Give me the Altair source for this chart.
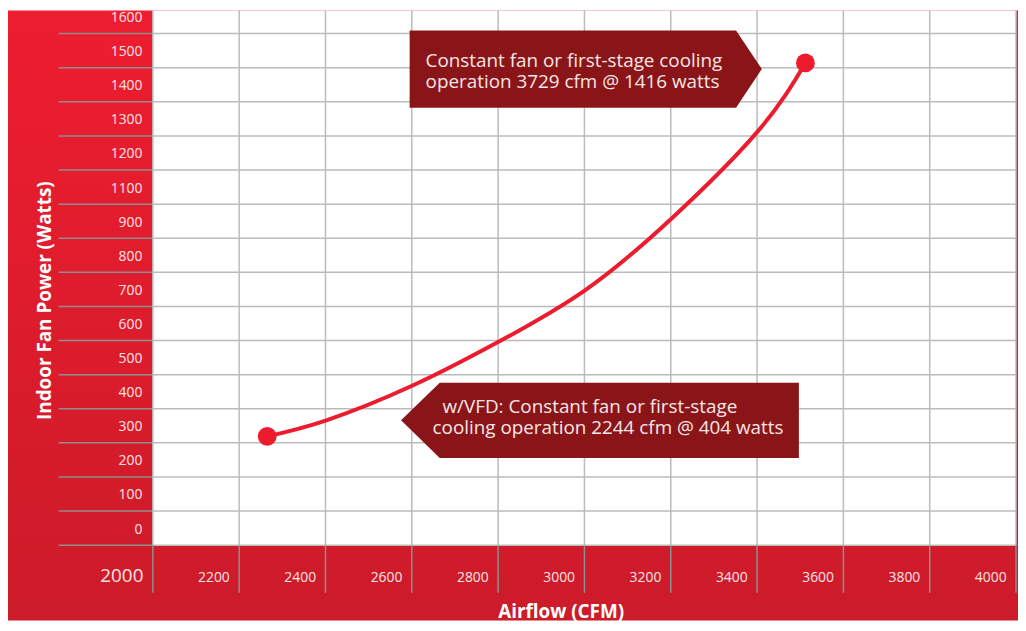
import json
import altair as alt
import pandas as pd

# ---- data ----
airflow_cfm = [2265, 2402, 2602, 2802, 3002, 3202, 3402, 3512]
fan_power_w = [319, 366, 468, 597, 748, 958, 1214, 1414]

endpoint_cfm = [2265, 3512]
endpoint_w = [319, 1414]

x_tick_values = [2000, 2200, 2400, 2600, 2800, 3000, 3200, 3400, 3600, 3800, 4000]
y_grid_values = [0, 100, 200, 300, 400, 500, 600, 700, 800, 900, 1000, 1100, 1200, 1300, 1400, 1500]
y_tick_labels = ["0", "100", "200", "300", "400", "500", "600", "700", "800", "900",
                 "1100", "1200", "1300", "1400", "1500", "1600"]

callout_cfm = [3003, 3036]
callout_w = [1396, 366]

callout_lines = [
    "Constant fan or first-stage cooling",
    "operation 3729 cfm @ 1416 watts",
    "w/VFD: Constant fan or first-stage",
    "cooling operation 2244 cfm @ 404 watts",
]
line_cfm = [2632, 2632, 2671, 2648]
line_w = [1421, 1357, 405, 343]

# ---- tables ----
curve_df = pd.DataFrame({"cfm": airflow_cfm, "w": fan_power_w})
dot_df = pd.DataFrame({"cfm": endpoint_cfm, "w": endpoint_w})
hgrid_df = pd.DataFrame({"w": y_grid_values})
vgrid_df = pd.DataFrame({"cfm": x_tick_values})
callout_df = pd.DataFrame({"cfm": callout_cfm, "w": callout_w})
text_df = pd.DataFrame({"cfm": line_cfm, "w": line_w, "line": callout_lines})
one_df = pd.DataFrame({"k": [0]})

W, H = 870, 539
FONT = "Open Sans"
RED = "#EC1C2E"
DARK = "#8A1518"
LABEL = "#FBE4E6"

xscale = alt.Scale(domain=[2000, 4000], nice=False, zero=False)
yscale = alt.Scale(domain=[0, 1568], nice=False, zero=False)

xaxis = alt.Axis(
    values=x_tick_values, format="d", title="Airflow (CFM)",
    grid=False, domain=False, ticks=False, tickSize=0, zindex=2,
    labelAlign="right", labelBaseline="alphabetic", labelOffset=-10, labelPadding=37,
    labelFontSize={"condition": {"test": "datum.value === 2000", "value": 19}, "value": 14},
    labelColor=LABEL, labelFont=FONT, labelFlush=False, labelOverlap=False,
    titleX=411, titleY=67, titleAlign="center", titleBaseline="middle",
    titleFontSize=19, titleFontWeight="bold", titleColor="white", titleFont=FONT,
)
yaxis = alt.Axis(
    values=[v + 50 for v in y_grid_values],
    labelExpr=json.dumps(y_tick_labels) + "[floor(datum.value / 100)]",
    title="Indoor Fan Power (Watts)",
    grid=False, domain=False, ticks=False, tickSize=0, zindex=2,
    labelPadding=11, labelOffset=1, labelFontSize=14, labelColor=LABEL, labelFont=FONT,
    labelOverlap=False, labelFlush=False,
    titleX=-109, titleY=292, titleAngle=270, titleAlign="center", titleBaseline="middle",
    titleFontSize=19, titleFontWeight="bold", titleColor="white", titleFont=FONT,
)


def X():
    return alt.X("cfm:Q", scale=xscale, axis=xaxis)


def Y():
    return alt.Y("w:Q", scale=yscale, axis=yaxis)


bg = alt.Chart(one_df).mark_rect(
    color=alt.LinearGradient(
        gradient="linear",
        stops=[alt.GradientStop(offset=0, color="#EE1D30"),
               alt.GradientStop(offset=1, color="#CC1B29")],
        x1=0, x2=0, y1=0, y2=1,
    )
).encode(x=alt.value(-146), x2=alt.value(W + 2), y=alt.value(0), y2=alt.value(H + 76))

plot_bg = alt.Chart(one_df).mark_rect(color="white").encode(
    x=alt.value(0), x2=alt.value(W), y=alt.value(0), y2=alt.value(H)
)

hgrid_out = alt.Chart(hgrid_df).mark_rule(color="#8E8E8E", strokeWidth=1.5).encode(
    y=Y(), x=alt.value(-95), x2=alt.value(0)
)
hgrid_in = alt.Chart(hgrid_df).mark_rule(color="#BBBBBB", strokeWidth=1.5).encode(
    y=Y(), x=alt.value(0), x2=alt.value(W)
)
vgrid_out = alt.Chart(vgrid_df).mark_rule(color="#8E8E8E", strokeWidth=1.5).encode(
    x=X(), y=alt.value(H), y2=alt.value(H + 48)
)
vgrid_in = alt.Chart(vgrid_df).mark_rule(color="#BBBBBB", strokeWidth=1.5).encode(
    x=X(), y=alt.value(0), y2=alt.value(H)
)

curve = alt.Chart(curve_df).mark_line(
    color=RED, strokeWidth=4, interpolate="natural", strokeCap="round"
).encode(x=X(), y=Y())

dots = alt.Chart(dot_df).mark_circle(color=RED, size=360, opacity=1).encode(x=X(), y=Y())

box1_path = "M-177.5,-39L151.5,-39L177.5,0L151.5,39L-177.5,39Z"
box2_path = "M-200.5,0L-161.5,-38L200.5,-38L200.5,38L-161.5,38Z"

box1 = alt.Chart(callout_df.iloc[[0]]).mark_point(
    shape=box1_path, size=4, filled=True, color=DARK, opacity=1, strokeWidth=0
).encode(x=X(), y=Y())
box2 = alt.Chart(callout_df.iloc[[1]]).mark_point(
    shape=box2_path, size=4, filled=True, color=DARK, opacity=1, strokeWidth=0
).encode(x=X(), y=Y())

texts = alt.Chart(text_df).mark_text(
    align="left", baseline="middle", font=FONT, fontSize=19, color="#F6E6E6"
).encode(x=X(), y=Y(), text="line:N")

chart = alt.layer(
    bg, plot_bg, hgrid_out, hgrid_in, vgrid_out, vgrid_in, curve, dots, box1, box2, texts
).properties(
    width=W, height=H,
    autosize=alt.AutoSizeParams(type="none"),
    padding={"left": 146, "right": 2, "top": 0, "bottom": 76},
).configure_view(stroke=None)

chart.save("out.html", embed_options={"renderer": "svg", "actions": False})
